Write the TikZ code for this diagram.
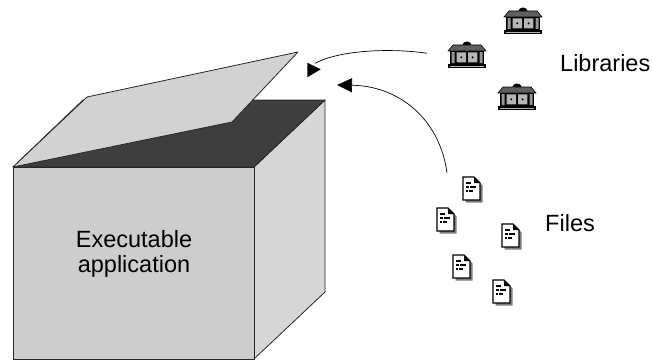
\documentclass[tikz,border=0pt]{standalone}
\usepackage{fontspec}
\setmainfont{Liberation Sans}
\usetikzlibrary{arrows.meta,calc}

\definecolor{frontgray}{RGB}{205,205,205}
\definecolor{sidegray}{RGB}{214,214,214}
\definecolor{lidgray}{RGB}{210,210,210}
\definecolor{topdark}{RGB}{62,62,62}
\definecolor{roofgray}{RGB}{95,95,95}
\definecolor{wingray}{RGB}{150,150,150}
\definecolor{shadowgray}{RGB}{125,125,125}

\tikzset{
  face/.style={draw=black!85, line width=0.8pt, line join=round},
  txt/.style={font=\fontsize{23.5}{25}\selectfont, inner sep=0pt},
  flow/.style={draw=black, line width=0.7pt},
  % small library building: dome, roof, columns, two windows, plinth
  libicon/.pic={
    \node[inner sep=0pt, minimum width=40pt, minimum height=27pt, anchor=north west] (-box) at (0,0) {};
    \fill[black] (20,4) ellipse [x radius=4.5, y radius=3.5];
    \filldraw[fill=roofgray, draw=black, line width=0.6pt] (1,10) -- (6,4) -- (34,4) -- (39,10) -- cycle;
    \fill[black] (3,10) rectangle (37,23.3);
    \fill[wingray] (4.5,11.2) rectangle (7.5,22.2) (32.5,11.2) rectangle (35.5,22.2);
    \fill[wingray!70] (9.7,11.3) rectangle (19,21.3) (21,11.3) rectangle (30.3,21.3);
    \fill[black] (14.3,16.3) circle [radius=1.1] (25.6,16.3) circle [radius=1.1];
    \fill[black] (1.3,23.3) rectangle (38.7,27.3);
    \fill[black!30] (2.8,24.6) rectangle (37.2,26);
  },
  % document page with folded corner and drop shadow
  fileicon/.pic={
    \node[inner sep=0pt, minimum width=19.5pt, minimum height=25.5pt, anchor=north west] (-box) at (0,0) {};
    \fill[shadowgray] (2.5,2.5) -- (13.5,2.5) -- (19.5,8.5) -- (19.5,25.5) -- (2.5,25.5) -- cycle;
    \filldraw[fill=white, draw=black, line width=1.4pt, line join=miter] (0,0) -- (11,0) -- (17,6) -- (17,23) -- (0,23) -- cycle;
    \fill[black] (11,0) -- (11,6) -- (17,6) -- cycle;
    \draw[line width=1.8pt] (3.3,6) -- (7.7,6) (3.3,10) -- (6,10) (7,10) -- (12.7,10)
      (3.3,14.3) -- (5,14.3) (6,14.3) -- (10,14.3);
  },
}

\begin{document}
\begin{tikzpicture}[x=1pt,y=-1pt]
\useasboundingbox (0,0) rectangle (652,361);

% box corners
\coordinate (fl)  at (13,167);
\coordinate (fr)  at (254,167);
\coordinate (br)  at (325,100);
\coordinate (bl)  at (83,100);
\coordinate (bbr) at (325,292);
\coordinate (fbr) at (254,359);

% right side, front, open top and lifted lid
\filldraw[face, fill=sidegray] (fr) -- (br) -- (bbr) -- (fbr) -- cycle;
\filldraw[face, fill=frontgray] (fl) rectangle (fbr);
\filldraw[face, fill=topdark] (fl) -- (bl) -- (br) -- (fr) -- cycle;
\filldraw[face, fill=lidgray] (fl) -- (87,97) -- (298,52) -- (232,122) -- cycle;

\node[txt, align=center] (app) at (134,254) {Executable\\application};

% libraries
\pic (libA) at (503,7)  {libicon};
\pic (libB) at (447,41) {libicon};
\pic (libC) at (497,83) {libicon};
\node[txt, anchor=base west] (libs) at (560,71) {Libraries};

% files
\pic (fA) at (463,177) {fileicon};
\pic (fB) at (437,208) {fileicon};
\pic (fC) at (502,224) {fileicon};
\pic (fD) at (453,255) {fileicon};
\pic (fE) at (493,280) {fileicon};
\node[txt, anchor=base west] (files) at (545,231) {Files};

% connectors into the open box
\coordinate (lidA) at (315,63.3);
\coordinate (lidB) at (337,85);
\draw[flow] ($(libB-box.west)+(-20,-1.5)$) .. controls (390,48) and (340,50) .. (lidA);
\fill (lidA) ++(-7.7,-0.6) -- ++(0,14.6) -- ++(13.4,-8) -- cycle;
\draw[flow, -{Triangle[length=15pt,width=14pt]}]
  ($(fA-box.north west)+(-16,-4)$) .. controls (440,120) and (400,86) .. (lidB);
\end{tikzpicture}
\end{document}
